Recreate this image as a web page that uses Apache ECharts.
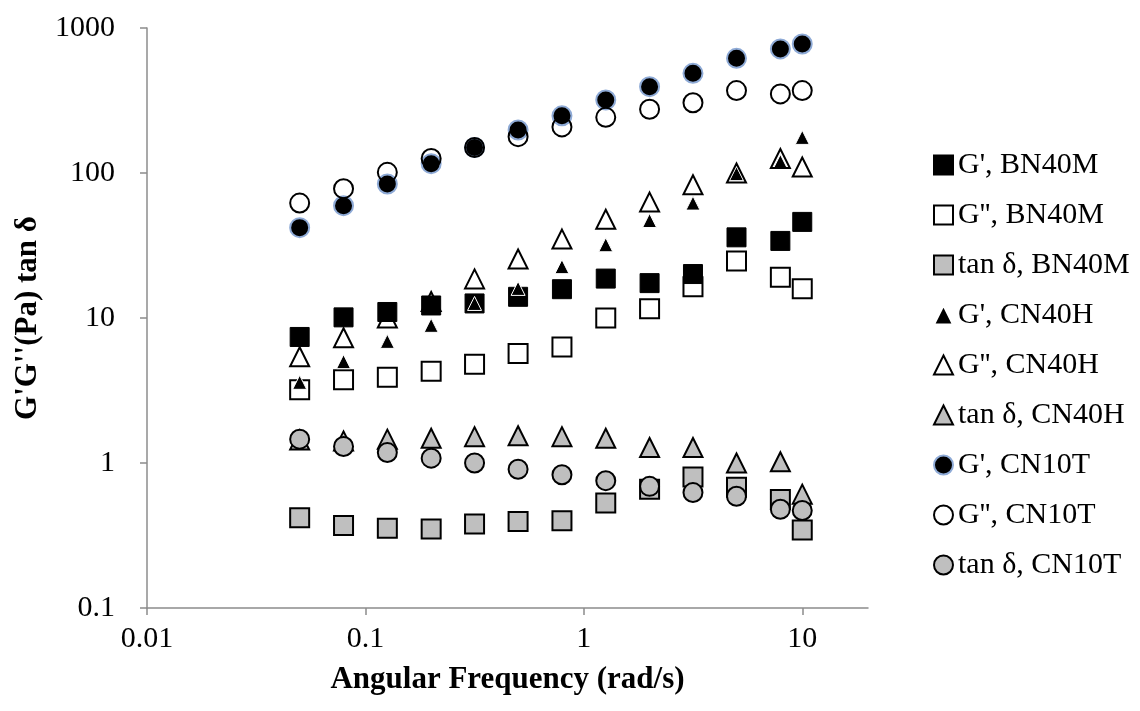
<!DOCTYPE html>
<html>
<head>
<meta charset="utf-8">
<script src="https://cdn.jsdelivr.net/npm/echarts@6/dist/echarts.min.js"></script>
<style>
html,body{margin:0;padding:0;background:#fff;}
#chart{width:1140px;height:711px;}
</style>
</head>
<body>
<div id="chart"></div>
<script>
// ---- data ----
const freq = [0.05, 0.0794, 0.126, 0.2, 0.316, 0.5, 0.794, 1.26, 2, 3.16, 5, 7.94, 10];
const gpBN40M   = [7.4, 10.1, 11.0, 12.2, 12.6, 14.0, 15.8, 18.7, 17.4, 20.1, 36, 34, 46];
const gppBN40M  = [3.2, 3.75, 3.9, 4.3, 4.8, 5.7, 6.3, 10.0, 11.6, 16.4, 24.7, 19.1, 15.9];
const tanBN40M  = [0.42, 0.37, 0.355, 0.35, 0.38, 0.395, 0.4, 0.53, 0.66, 0.8, 0.68, 0.56, 0.345];
const gpCN40H   = [3.6, 5.0, 6.9, 8.9, 12.6, 16.0, 22.6, 32, 47, 62, 99, 120, 176];
const gppCN40H  = [5.4, 7.3, 10.0, 13.0, 18.6, 25.5, 35, 48, 63, 83, 100, 126, 110];
const tanCN40H  = [1.44, 1.42, 1.46, 1.48, 1.52, 1.54, 1.52, 1.48, 1.28, 1.28, 1.0, 1.02, 0.61];
const gpCN10T   = [42, 59.5, 84, 116, 150, 198, 248, 319, 394, 487, 618, 717, 776];
const gppCN10T  = [62, 78, 101, 126, 150, 178, 208, 242, 275, 305, 370, 351, 370];
const tanCN10T  = [1.46, 1.30, 1.18, 1.08, 1.0, 0.905, 0.83, 0.755, 0.69, 0.625, 0.59, 0.48, 0.47];
const seriesNames = ["G', BN40M", "G'', BN40M", "tan δ, BN40M", "G', CN40H", "G'', CN40H", "tan δ, CN40H", "G', CN10T", "G'', CN10T", "tan δ, CN10T"];
const xTicks = [0.01, 0.1, 1, 10];
const yTicks = [0.1, 1, 10, 100, 1000];
const xTitle = 'Angular Frequency (rad/s)';
const yTitle = "G'G''(Pa) tan δ";

// ---- styles ----
const GRAY = '#bfbfbf';
const styles = [
  {symbol: 'rect', size: 19, color: '#000', border: '#000', bw: 1},
  {symbol: 'rect', size: 19, color: 'rgba(255,255,255,0)', border: '#000', bw: 2},
  {symbol: 'rect', size: 19, color: GRAY, border: '#000', bw: 2},
  {symbol: 'triangle', size: 14, color: '#000', border: '#fff', bw: 1},
  {symbol: 'triangle', size: 19, color: 'rgba(255,255,255,0)', border: '#000', bw: 2},
  {symbol: 'triangle', size: 19, color: GRAY, border: '#000', bw: 2},
  {symbol: 'circle', size: 19, color: '#000', border: '#8eaad6', bw: 2},
  {symbol: 'circle', size: 19, color: 'rgba(255,255,255,0)', border: '#000', bw: 2},
  {symbol: 'circle', size: 19, color: GRAY, border: '#000', bw: 2}
];
const values = [gpBN40M, gppBN40M, tanBN40M, gpCN40H, gppCN40H, tanCN40H, gpCN10T, gppCN10T, tanCN10T];

const FONT = '"Liberation Serif", "Times New Roman", serif';
const fmt = v => String(+Number(v).toPrecision(3));

const series = values.map((vals, i) => ({
  name: seriesNames[i],
  type: 'scatter',
  symbol: styles[i].symbol,
  symbolSize: styles[i].size,
  data: freq.map((f, j) => [f, vals[j]]),
  itemStyle: {color: styles[i].color, borderColor: styles[i].border, borderWidth: styles[i].bw, opacity: 1},
  emphasis: {disabled: true},
  animation: false
}));

const axisLine = {show: true, lineStyle: {color: '#8c8c8c', width: 1.5}};

const chart = echarts.init(document.getElementById('chart'), null, {renderer: 'canvas'});
chart.setOption({
  backgroundColor: '#fff',
  animation: false,
  grid: {left: 147, right: 272, top: 28, bottom: 103},
  xAxis: {
    type: 'log', logBase: 10, min: 0.01, max: 20,
    name: xTitle, nameLocation: 'middle', nameGap: 56,
    nameTextStyle: {fontFamily: FONT, fontWeight: 'bold', fontSize: 31, color: '#000'},
    axisLine: axisLine,
    axisTick: {show: true, inside: false, length: 7, customValues: xTicks, lineStyle: {color: '#8c8c8c', width: 1.5}},
    axisLabel: {customValues: xTicks, formatter: fmt, fontFamily: FONT, fontSize: 30, color: '#000', margin: 16},
    splitLine: {show: false}, minorTick: {show: false}
  },
  yAxis: {
    type: 'log', logBase: 10, min: 0.1, max: 1000,
    name: yTitle, nameLocation: 'middle', nameGap: 104, nameRotate: 90,
    nameTextStyle: {fontFamily: FONT, fontWeight: 'bold', fontSize: 31, color: '#000'},
    axisLine: axisLine,
    axisTick: {show: true, inside: false, length: 7, customValues: yTicks, lineStyle: {color: '#8c8c8c', width: 1.5}},
    axisLabel: {customValues: yTicks, formatter: fmt, fontFamily: FONT, fontSize: 30, color: '#000', margin: 32},
    splitLine: {show: false}, minorTick: {show: false}
  },
  legend: {
    orient: 'vertical', left: 928, top: 145,
    itemWidth: 19, itemHeight: 19, itemGap: 20,
    textStyle: {fontFamily: FONT, fontSize: 30, color: '#000', lineHeight: 30},
    data: seriesNames
  },
  series: series
});
</script>
</body>
</html>
